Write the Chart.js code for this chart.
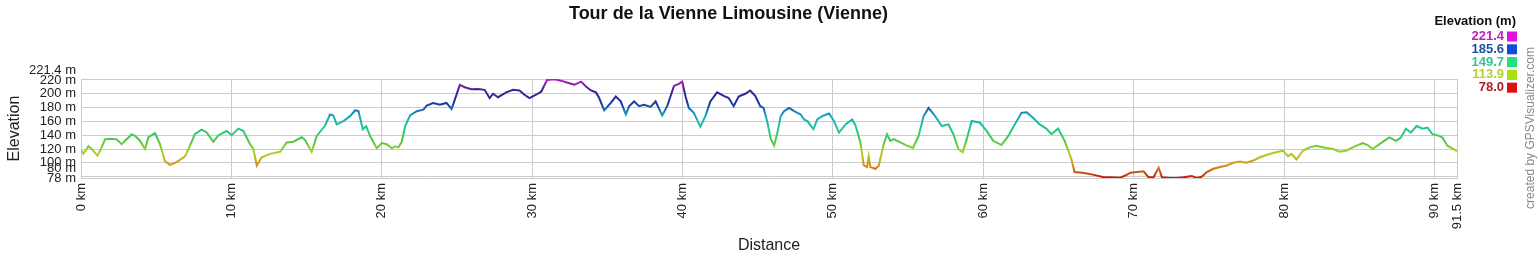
<!DOCTYPE html>
<html>
<head>
<meta charset="utf-8">
<title>Tour de la Vienne Limousine (Vienne)</title>
<script src="https://cdn.jsdelivr.net/npm/chart.js@4.4.1/dist/chart.umd.min.js"></script>
<style>
  html, body { margin: 0; padding: 0; background: #fff; }
  #wrap { width: 1537px; height: 260px; }
</style>
</head>
<body>
<div id="wrap"><canvas id="profile" width="1537" height="260"></canvas></div>
<script>
// distance along the route (km) and elevation (m)
const distanceKm = [
  0, 0.16, 0.49, 0.71, 1.09, 1.26, 1.6, 1.93, 2.37, 2.7, 2.93, 3.37, 3.59, 3.92, 4.26, 4.48, 4.92, 5.25, 5.59, 5.92,
  6.36, 6.92, 7.25, 7.58, 8.03, 8.36, 8.8, 9.14, 9.69, 10.02, 10.47, 10.8, 11.24, 11.46, 11.69, 12.02, 12.57, 13.24, 13.68, 14.12,
  14.68, 14.9, 15.34, 15.68, 16.23, 16.56, 16.78, 17.0, 17.45, 17.89, 18.23, 18.45, 18.74, 18.96, 19.22, 19.67, 20.0, 20.33, 20.67, 20.89,
  21.11, 21.33, 21.55, 21.88, 22.33, 22.77, 22.99, 23.42, 23.86, 24.3, 24.64, 24.86, 25.19, 25.52, 25.96, 26.4, 26.84, 27.17, 27.4, 27.73,
  28.28, 28.72, 29.16, 29.49, 29.82, 30.26, 30.6, 30.99, 31.48, 31.92, 32.36, 32.8, 33.25, 33.58, 33.91, 34.24, 34.46, 34.79, 35.23, 35.56,
  35.89, 36.23, 36.45, 36.78, 37.11, 37.44, 37.88, 38.21, 38.65, 38.98, 39.43, 39.76, 39.98, 40.2, 40.42, 40.75, 41.19, 41.52, 41.85, 42.3,
  42.74, 43.07, 43.4, 43.73, 44.17, 44.5, 44.83, 45.17, 45.39, 45.65, 45.87, 46.09, 46.31, 46.53, 46.75, 47.09, 47.42, 47.86, 48.08, 48.3,
  48.7, 48.96, 49.29, 49.74, 50.07, 50.4, 50.84, 51.28, 51.5, 51.83, 52.05, 52.27, 52.38, 52.49, 52.83, 53.05, 53.38, 53.6, 53.82, 54.04,
  54.48, 54.92, 55.32, 55.7, 56.03, 56.36, 56.8, 57.24, 57.68, 58.01, 58.34, 58.63, 58.9, 59.23, 59.78, 60.22, 60.66, 61.21, 61.66, 62.1,
  62.54, 62.87, 63.31, 63.75, 64.19, 64.53, 64.97, 65.41, 65.85, 66.07, 66.62, 67.28, 67.95, 68.45, 69.12, 69.56, 69.78, 70.66, 70.99, 71.32,
  71.66, 71.88, 72.43, 72.87, 73.31, 73.86, 74.19, 74.53, 74.86, 75.3, 75.74, 76.18, 76.62, 77.06, 77.5, 77.95, 78.39, 78.83, 79.27, 79.93,
  80.26, 80.49, 80.82, 81.26, 81.7, 82.14, 82.8, 83.25, 83.69, 84.13, 84.57, 85.23, 85.56, 85.89, 86.34, 87.0, 87.44, 87.77, 88.1, 88.43,
  88.81, 89.21, 89.54, 89.87, 90.31, 90.53, 90.86, 91.5
];
const elevationM = [
  118, 113, 124, 120, 110.5, 117, 134, 135, 134, 127, 132, 141, 139, 132, 120, 137, 143, 127, 102, 97,
  101, 109.5, 125, 142, 148, 144, 130.5, 140, 146, 140, 149.5, 146, 127, 120, 96, 108, 113, 116, 129.5, 130.5,
  137, 133, 116, 139, 154, 170, 168.6, 155.7, 160.5, 167.6, 176, 175, 148.6, 153, 139, 121, 128.6, 127, 121, 124,
  122.4, 130.5, 153, 168.6, 174.8, 177, 183, 186.7, 184, 186.7, 178, 191.4, 212.9, 209.5, 206.7, 207, 205.7, 193.8, 200, 195,
  202, 205.7, 204.8, 198.6, 193.8, 198.6, 203, 220, 221, 219, 216, 213, 217.6, 210.5, 204.8, 202, 193.8, 176, 186.7, 196,
  189, 170, 182, 189, 182, 184, 181, 189, 168.6, 182, 211.4, 214.3, 217.6, 196, 179.5, 172.4, 152.4, 167.6, 189, 202,
  197, 193.8, 182, 196, 200, 204.8, 197, 182, 179.5, 158, 134.3, 124.8, 143.8, 167.6, 174.8, 179.5, 174.8, 170, 162.9, 160.5,
  148.6, 162.9, 167.6, 171.4, 160.5, 143.8, 155.7, 162.9, 154.3, 129.5, 96.2, 93.8, 109.5, 93.8, 91.4, 96.2, 127.1, 141.4, 131.9, 134.3,
  129.5, 124.8, 121.4, 139, 167.6, 179.5, 167.6, 153.3, 155.7, 141.4, 120, 115.2, 134.3, 160.5, 158, 146.2, 131.9, 125.7, 139, 155.7,
  172.4, 173.3, 165.2, 155.7, 149.5, 141.4, 149.5, 131.9, 105.7, 86.7, 85.7, 82.9, 79.5, 79, 78.5, 83, 85.7, 87.6, 79, 79,
  93.3, 79, 78, 78, 79, 81, 78, 80, 86.7, 91.4, 93.8, 96.2, 100, 101.9, 100, 103.3, 108, 111.4, 114.3, 117.6,
  109.5, 112.9, 104.8, 117.6, 122.4, 124.8, 121.4, 120, 116.2, 117.6, 122.4, 128.6, 125.7, 120, 127.1, 136.7, 131.9, 136.7, 149.5, 143.8,
  153.3, 149.5, 151, 141.4, 139, 136.7, 124.8, 117
];

const xTicks = [0, 10, 20, 30, 40, 50, 60, 70, 80, 90, 91.5];
const yTicks = [78, 80, 100, 120, 140, 160, 180, 200, 220, 221.4];

// colour key (top right)
const legendValues = ['221.4', '185.6', '149.7', '113.9', '78.0'];
const legendBoxColors = ['#e010e0', '#1048e0', '#20e080', '#a8e010', '#e01010'];
const legendTextColors = ['#c020c0', '#2050a0', '#30c890', '#b8d030', '#b02020'];

const FONT = '"Liberation Sans", Arial, sans-serif';
const GRID = '#cccccc';

Chart.defaults.font.family = FONT;
Chart.defaults.color = '#222';

function elevationGradient(chart) {
  const area = chart.chartArea;
  if (!area) return '#20c080';
  const y = chart.scales.y;
  const g = chart.ctx.createLinearGradient(0, y.getPixelForValue(78), 0, y.getPixelForValue(221.4));
  g.addColorStop(0, '#c01808');
  g.addColorStop(0.125, '#d89018');
  g.addColorStop(0.25, '#b0d020');
  g.addColorStop(0.375, '#50c840');
  g.addColorStop(0.5, '#20c890');
  g.addColorStop(0.625, '#18a8c0');
  g.addColorStop(0.75, '#1838a0');
  g.addColorStop(0.875, '#3a2090');
  g.addColorStop(1, '#c018c8');
  return g;
}

// y labels drawn by hand so the crowded ones at both ends can be nudged apart
const yLabels = {
  id: 'yLabels',
  afterDraw(chart) {
    const { ctx, chartArea } = chart;
    const y = chart.scales.y;
    const pix = yTicks.map(v => y.getPixelForValue(v));
    ctx.save();
    ctx.font = '13px ' + FONT;
    ctx.fillStyle = '#222';
    ctx.textAlign = 'right';
    ctx.textBaseline = 'middle';
    yTicks.forEach((v, i) => {
      let py = pix[i];
      if (i === 1 && pix[0] - pix[1] < 10) py = pix[0] - 10;
      if (i === yTicks.length - 1 && pix[i - 1] - pix[i] < 10) py = pix[i - 1] - 10;
      ctx.fillText(v + ' m', chartArea.left - 5, py);
    });
    ctx.restore();
  }
};

const colorKey = {
  id: 'colorKey',
  afterDraw(chart) {
    const ctx = chart.ctx;
    ctx.save();
    ctx.font = 'bold 13px ' + FONT;
    ctx.fillStyle = '#111';
    ctx.textAlign = 'right';
    ctx.textBaseline = 'middle';
    ctx.fillText('Elevation (m)', 1516, 21);
    legendValues.forEach((v, i) => {
      const cy = 36.5 + i * 12.8;
      ctx.fillStyle = legendTextColors[i];
      ctx.fillText(v, 1504, cy);
      ctx.fillStyle = legendBoxColors[i];
      ctx.fillRect(1507, cy - 5, 10, 10);
    });
    // credit line
    ctx.translate(1531, 128);
    ctx.rotate(-Math.PI / 2);
    ctx.font = '12px ' + FONT;
    ctx.fillStyle = '#888';
    ctx.textAlign = 'center';
    ctx.fillText('created by GPSVisualizer.com', 0, 0);
    ctx.restore();
  }
};

const ctx = document.getElementById('profile').getContext('2d');
const profileChart = new Chart(ctx, {
  type: 'line',
  data: {
    datasets: [{
      label: 'Elevation',
      data: distanceKm.map((d, i) => ({ x: d, y: elevationM[i] })),
      borderColor: c => elevationGradient(c.chart),
      borderWidth: 2,
      pointRadius: 0,
      tension: 0,
      fill: false
    }]
  },
  options: {
    responsive: false,
    animation: false,
    devicePixelRatio: 1,
    layout: { padding: { left: 0, right: 80, top: 0, bottom: 0 } },
    plugins: {
      legend: { display: false },
      tooltip: { enabled: false },
      title: {
        display: true,
        text: 'Tour de la Vienne Limousine (Vienne)',
        font: { size: 18, weight: 'bold' },
        color: '#111',
        padding: { top: 3, bottom: 54.4 }
      }
    },
    scales: {
      x: {
        type: 'linear',
        min: 0,
        max: 91.5,
        afterBuildTicks: s => { s.ticks = xTicks.map(v => ({ value: v })); },
        afterFit: s => { s.height = 82; },
        grid: { color: GRID, drawTicks: false },
        border: { color: GRID },
        ticks: {
          autoSkip: false,
          minRotation: 90,
          maxRotation: 90,
          padding: 5,
          font: { size: 13 },
          color: '#222',
          callback: v => v + ' km'
        },
        title: { display: true, text: 'Distance', font: { size: 16 }, color: '#222', padding: { top: 0, bottom: 5 } }
      },
      y: {
        min: 78,
        max: 221.4,
        afterBuildTicks: s => { s.ticks = yTicks.map(v => ({ value: v })); },
        afterFit: s => { s.width = 81; },
        grid: { color: GRID, drawTicks: false },
        border: { color: GRID },
        ticks: { display: false },
        title: { display: true, text: 'Elevation', font: { size: 16 }, color: '#222', padding: { top: 5, bottom: 0 } }
      }
    }
  },
  plugins: [yLabels, colorKey]
});
</script>
</body>
</html>
